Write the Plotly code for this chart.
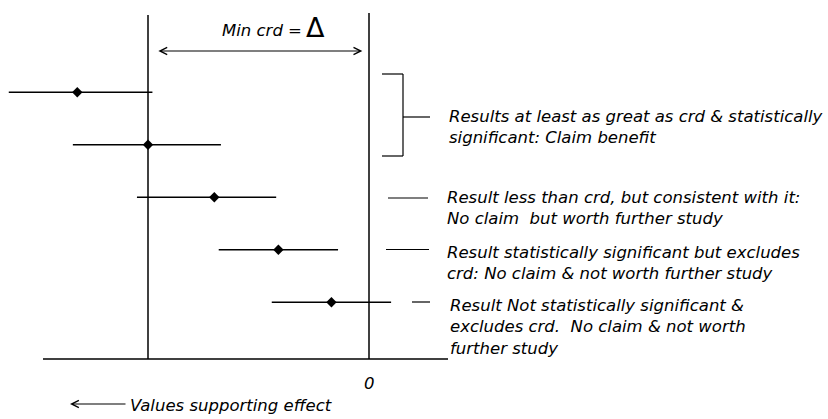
import plotly.graph_objects as go

# ---------------- data ----------------
rows = [1, 2, 3, 4, 5]
estimate = [-1.32, -1.00, -0.70, -0.41, -0.17]
ci_low = [-1.63, -1.34, -1.05, -0.68, -0.44]
ci_high = [-0.98, -0.67, -0.42, -0.14, 0.10]
min_crd = -1.0       # position of the minimum clinically relevant difference (Delta)
null_value = 0.0     # zero effect

labels = [
    "Results at least as great as crd & statistically<br>significant: Claim benefit",
    "Result less than crd, but consistent with it:<br>No claim\u00a0 but worth further study",
    "Result statistically significant but excludes<br>crd: No claim & not worth further study",
    "Result Not statistically significant &<br>excludes crd.\u00a0 No claim & not worth<br>further study",
]
zero_label = "0"
delta_label = "Min crd ="
axis_caption = "Values supporting effect"

# ---------------- layout geometry ----------------
W, H = 828, 419
X0_PX, PX_PER_UNIT = 369, 221.0
ROW3_PX, PX_PER_ROW = 197.2, 52.5


def px(x):
    return x / W


def py(y):
    return 1 - y / H


FONT = "DejaVu Sans"
FS = 16.5
BLACK = "#000000"

fig = go.Figure()

fig.add_trace(go.Scatter(
    x=estimate, y=rows, mode="markers",
    marker=dict(symbol="diamond", size=8, color=BLACK),
    error_x=dict(type="data", symmetric=False,
                 array=[h - e for h, e in zip(ci_high, estimate)],
                 arrayminus=[e - l for e, l in zip(estimate, ci_low)],
                 width=0, thickness=1.4, color=BLACK),
    showlegend=False, hoverinfo="skip",
))

shapes = []
# reference vertical lines
shapes.append(dict(type="line", xref="x", yref="paper", x0=min_crd, x1=min_crd,
                   y0=py(359), y1=py(15), line=dict(color=BLACK, width=1.5)))
shapes.append(dict(type="line", xref="x", yref="paper", x0=null_value, x1=null_value,
                   y0=py(359), y1=py(13), line=dict(color=BLACK, width=1.5)))
# baseline axis
shapes.append(dict(type="line", xref="paper", yref="paper", x0=px(43), x1=px(448),
                   y0=py(359), y1=py(359), line=dict(color=BLACK, width=1.3)))
# bracket for rows 1-2, and connector dashes
lw = 1.2
for (x0, y0, x1, y1) in [(382, 74, 403, 74), (403, 74, 403, 156), (382, 156, 403, 156),
                         (403, 117, 430, 117),
                         (388, 198, 428, 198), (386, 249.5, 429, 249.5), (412, 302, 430, 302)]:
    shapes.append(dict(type="line", xref="paper", yref="paper", x0=px(x0), x1=px(x1),
                       y0=py(y0), y1=py(y1), line=dict(color=BLACK, width=lw)))

annotations = []
label_pos = [(447, 127), (445, 207.5), (445, 263), (448, 326.5)]
for txt, (lx, ly) in zip(labels, label_pos):
    annotations.append(dict(text=txt, xref="paper", yref="paper", x=px(lx), y=py(ly),
                            xanchor="left", yanchor="middle", align="left",
                            showarrow=False, font=dict(family=FONT, size=FS, color=BLACK, style="italic")))

annotations.append(dict(text=zero_label, xref="x", yref="paper", x=null_value, y=py(383),
                        xanchor="center", yanchor="middle", showarrow=False,
                        font=dict(family=FONT, size=FS, color=BLACK, style="italic")))
annotations.append(dict(text=delta_label, xref="paper", yref="paper", x=px(220), y=py(30),
                        xanchor="left", yanchor="middle", showarrow=False,
                        font=dict(family=FONT, size=FS, color=BLACK, style="italic")))
annotations.append(dict(text="\u0394", xref="paper", yref="paper", x=px(315.5), y=py(27),
                        xanchor="center", yanchor="middle", showarrow=False,
                        font=dict(family=FONT, size=27, color=BLACK)))
# double arrow between min crd and zero
annotations.append(dict(text="", xref="x", yref="paper", x=null_value - 0.03, y=py(51),
                        axref="x", ayref="pixel", ax=min_crd + 0.04, ay=0,
                        showarrow=True, arrowside="end+start", arrowhead=5, startarrowhead=5,
                        arrowsize=1.3, startarrowsize=1.3, arrowwidth=1.1, arrowcolor=BLACK))
# bottom arrow
annotations.append(dict(text="", xref="paper", yref="paper", x=px(70), y=py(404),
                        axref="pixel", ayref="pixel", ax=57, ay=0,
                        showarrow=True, arrowhead=5, arrowsize=1.3, arrowwidth=1.1,
                        arrowcolor=BLACK))
annotations.append(dict(text=axis_caption, xref="paper", yref="paper", x=px(128), y=py(405),
                        xanchor="left", yanchor="middle", showarrow=False,
                        font=dict(family=FONT, size=FS, color=BLACK, style="italic")))

fig.update_layout(
    width=W, height=H, margin=dict(l=0, r=0, t=0, b=0),
    paper_bgcolor="white", plot_bgcolor="white",
    xaxis=dict(range=[(0 - X0_PX) / PX_PER_UNIT, (W - X0_PX) / PX_PER_UNIT],
               visible=False, fixedrange=True),
    yaxis=dict(range=[3 + (H - ROW3_PX) / PX_PER_ROW, 3 - ROW3_PX / PX_PER_ROW],
               visible=False, fixedrange=True),
    shapes=shapes, annotations=annotations,
    font=dict(family=FONT, color=BLACK),
)

fig.write_html("out.html", config={"displayModeBar": False},
               post_script="document.body.style.margin='0px';document.body.style.overflow='hidden';")
